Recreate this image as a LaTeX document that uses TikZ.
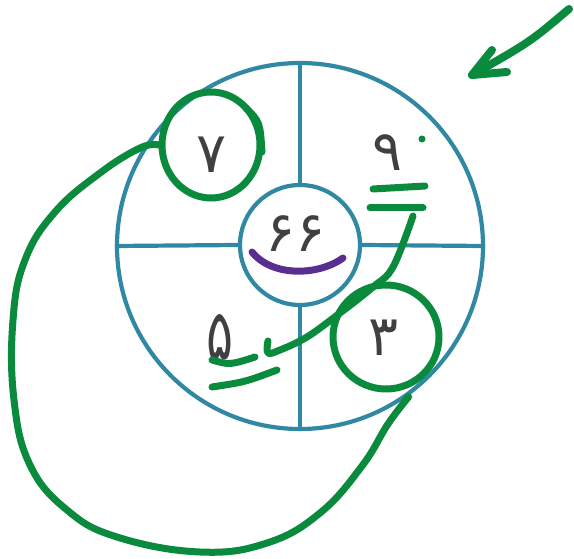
\documentclass[tikz,border=0pt]{standalone}
\usepackage{fontspec}
\usetikzlibrary{shapes.geometric}
\TeXXeTstate=1
\newfontfamily\fafont[Script=Arabic]{DejaVu Sans}
\definecolor{wheel}{HTML}{3188A2}
\definecolor{pen}{HTML}{0A8A3C}
\definecolor{plum}{HTML}{5A2D91}

\begin{document}
\begin{tikzpicture}[
    x=1pt, y=-1pt,
    spoke/.style={draw=wheel, line width=4.2pt},
    digit/.style={font=\fafont\fontsize{56}{56}\selectfont, text=black!75, inner sep=0pt},
    ink/.style={draw=pen, line width=7pt, line cap=round, line join=round},
    ring/.style={ink, ellipse, inner sep=0pt}
  ]
  \useasboundingbox (0,0) rectangle (574,559);

  % wheel
  \node[spoke, circle, minimum size=366pt] (rim) at (300,246) {};
  \node[spoke, circle, minimum size=120pt] (hub) at (300,245) {};
  \draw[spoke] (hub.north) -- (rim.north);
  \draw[spoke] (hub.south) -- (rim.south);
  \draw[spoke] (hub.west) -- (rim.west);
  \draw[spoke] (hub.east) -- (rim.east);

  \node[digit] (seven) at (212,155) {\beginR ۷\endR};
  \node[digit] (nine) at (388,153) {\beginR ۹\endR};
  \node[digit, font=\fafont\fontsize{70}{70}\selectfont] (five) at (220,337) {\scalebox{0.72}[1]{\beginR ۵\endR}};
  \node[digit] (three) at (384,338) {\beginR ۳\endR};
  \node[digit] (sum) at (296,234) {\beginR ۶۶\endR};

  % marks
  \draw[draw=plum, line width=7pt, line cap=round] (252,252) .. controls (272,277) and (318,276) .. (343,258);
  \fill[pen] (422,139) circle (3.5pt);
  \draw[ink] (373,189) -- (425,186);
  \draw[ink] (370,208) -- (423,208);
  \draw[ink] (212,360) .. controls (230,365) .. (255,357);
  \draw[ink] (212,387) .. controls (245,382) .. (277,370);

  \node[ring, minimum width=98pt, minimum height=106pt] (ringseven) at (211,145) {};
  \node[ring, minimum width=106pt, minimum height=104pt] (ringthree) at (386,337) {};
  \draw[ink] (246,108) .. controls (260,122) .. (262,152);

  \draw[ink] plot[smooth, tension=0.6] coordinates {(413,216) (393,267) (373,287) (340,313) (307,337) (280,350) (268,353) (268,341)};
  \draw[ink] plot[smooth, tension=0.7] coordinates {(ringseven.west) (140,148) (100,173) (55,212) (25,260) (13,320) (14,400) (30,465) (67,510) (117,537) (200,552) (267,543) (320,513) (362,466) (388,424) ([yshift=-9pt]ringthree.-66)};

  % pointer
  \coordinate (tail) at (569,9);
  \coordinate (tip) at (472,75);
  \draw[ink, line width=8pt] (tail) .. controls (530,42) .. (tip);
  \draw[ink, line width=8pt] (492,50) -- (tip) -- (507,72);
\end{tikzpicture}
\end{document}
